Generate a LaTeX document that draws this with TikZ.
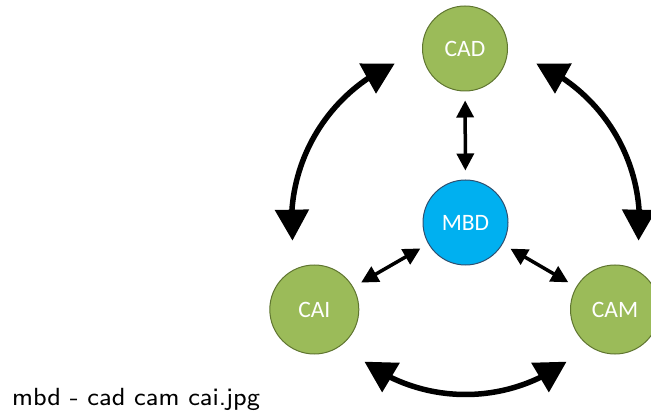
\documentclass[tikz,border=0pt]{standalone}
\usepackage{fontspec}
\newfontfamily\calibri{Carlito}
\newfontfamily\capfont{lmsans8-regular.otf}
\usetikzlibrary{arrows.meta, bending}
\definecolor{olivefill}{HTML}{9BBB59}
\definecolor{olivedraw}{HTML}{5F7530}
\definecolor{cyanfill}{HTML}{00B0F0}
\definecolor{cyandraw}{HTML}{2F4F6F}

\begin{document}
\begin{tikzpicture}[
	x=1pt, y=1pt,
	part/.style={circle, draw=olivedraw, fill=olivefill, line width=1pt, minimum size=89pt, inner sep=0pt, text=white, font=\calibri\fontsize{23.5}{27}\selectfont},
	core/.style={part, draw=cyandraw, fill=cyanfill, minimum size=85pt},
	bigarrow/.style={line width=5.5pt, {Triangle[length=31pt, width=33pt]}-{Triangle[length=31pt, width=33pt]}},
	smallarrow/.style={line width=3.5pt, {Triangle[length=17pt, width=17pt]}-{Triangle[length=17pt, width=17pt]}, shorten <=9pt, shorten >=9pt},
	]
	\useasboundingbox (0,0) rectangle (651,-414);
	
	\node[core] (mbd) at (465.5,-222.5) {MBD};
	\node[part, minimum size=85pt] (cad) at (465,-48.5) {CAD};
	\node[part] (cai) at (314.3,-309.5) {CAI};
	\node[part] (cam) at (615,-309.5) {CAM};
	
	\draw[smallarrow] (cad) -- (mbd);
	\draw[smallarrow] (mbd) -- (cai);
	\draw[smallarrow] (mbd) -- (cam);
	
	% outer ring
	\draw[bigarrow] ([shift={(114:174pt)}]mbd.center) arc[start angle=114, end angle=186, radius=174pt];
	\draw[bigarrow] ([shift={(66:174pt)}]mbd.center) arc[start angle=66, end angle=-6, radius=174pt];
	\draw[bigarrow] ([shift={(234:172pt)}]mbd.center) arc[start angle=234, end angle=306, radius=172pt];
	
	\node[anchor=base west, inner sep=0pt, font=\capfont\fontsize{24.8}{29}\selectfont] (filename) at (12,-405) {mbd - cad cam cai.jpg};
	
\end{tikzpicture}
\end{document}
